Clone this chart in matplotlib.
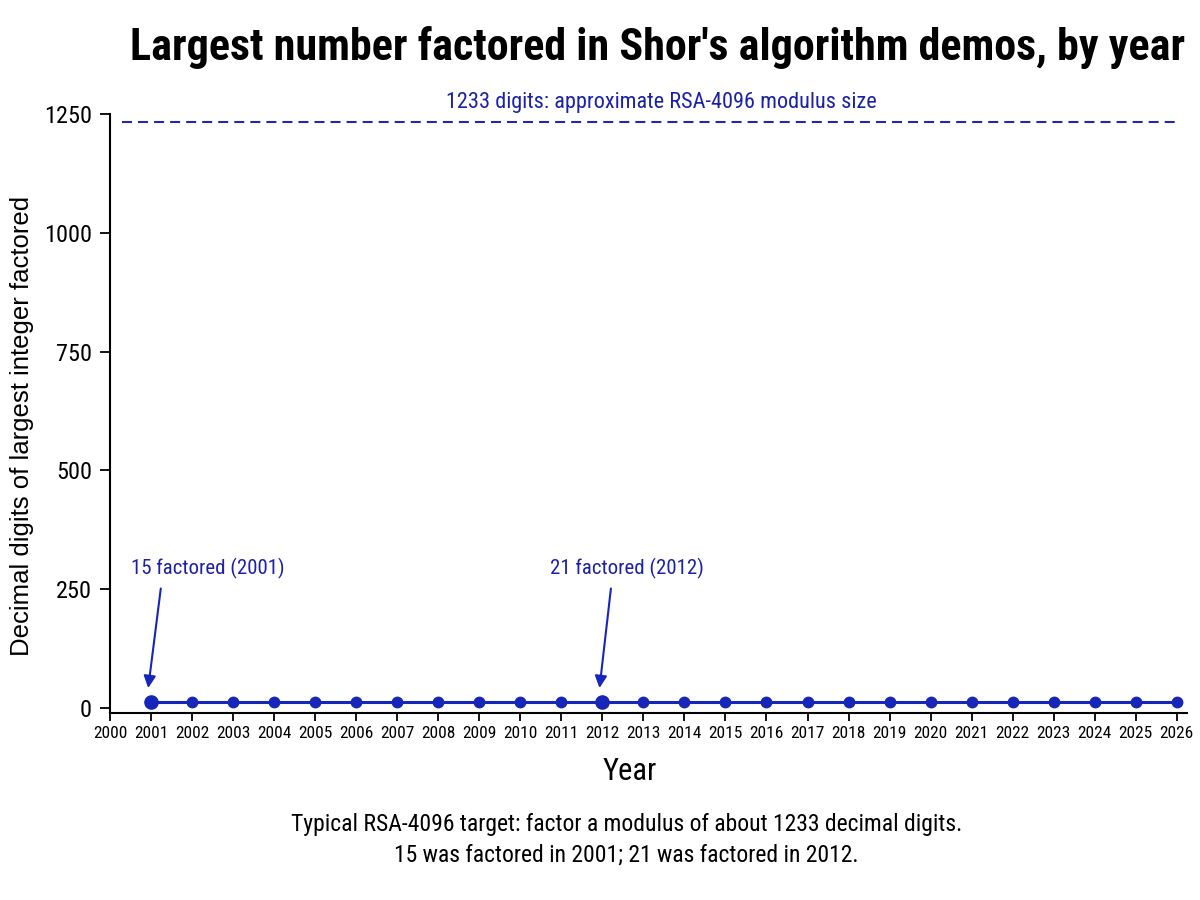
import matplotlib
matplotlib.use("Agg")
import matplotlib.pyplot as plt

# data
years = list(range(2001, 2027))
digits = [12] * len(years)
highlight_years = [2001, 2012]
highlight_labels = ["15 factored (2001)", "21 factored (2012)"]
rsa_digits = 1233
rsa_label = "1233 digits: approximate RSA-4096 modulus size"
yticks = [0, 250, 500, 750, 1000, 1250]
xticks = list(range(2000, 2027))

NARROW = ["Roboto Condensed", "DejaVu Sans"]
BLUE = "#1626b8"
TEXT_BLUE = "#1c22a8"

plt.rcParams["font.family"] = NARROW

fig = plt.figure(figsize=(12, 9), dpi=100)
ax = fig.add_axes([0.0917, 0.2078, 0.8975, 0.6655])

ax.plot(years, digits, color=BLUE, lw=2.2, marker="o", ms=7.5,
        markerfacecolor=BLUE, markeredgecolor=BLUE, zorder=3)
hy = [digits[years.index(y)] for y in highlight_years]
ax.plot(highlight_years, hy, ls="none", marker="o", ms=9.5, color=BLUE, zorder=4)

ax.hlines(rsa_digits, 2000.3, 2026, colors="#2328a8", lw=1.5,
          linestyles=(0, (4.8, 2.9)))
ax.text(2013.43, 1275, rsa_label, ha="center", va="center",
        fontsize=16, color=TEXT_BLUE)

for (yr, lab, tx, rel) in zip(highlight_years, highlight_labels,
                              [2002.39, 2012.61], [0.2, 0.4]):
    ax.annotate(lab, xy=(yr - 0.07, 42), xytext=(tx, 294),
                ha="center", va="center", fontsize=15, color=TEXT_BLUE,
                arrowprops=dict(arrowstyle="-|>", color=BLUE, lw=1.5,
                                mutation_scale=18, shrinkA=5, shrinkB=0,
                                relpos=(rel, 0)))

ax.set_xlim(2000, 2026.25)
ax.set_ylim(-10.5, 1250)
ax.set_xticks(xticks)
ax.set_yticks(yticks)
ax.tick_params(axis="x", labelsize=12.5, length=6, width=1.3)
ax.tick_params(axis="y", labelsize=17.5, length=7, width=1.3, pad=6)
for s in ["top", "right"]:
    ax.spines[s].set_visible(False)
for s in ["left", "bottom"]:
    ax.spines[s].set_linewidth(1.5)

ax.set_xlabel("Year", fontsize=22)
ax.xaxis.set_label_coords(0.483, -0.074)
fig.text(0.018, 0.527, "Decimal digits of largest integer factored",
         rotation=90, ha="center", va="center", fontsize=18.5,
         family=["Liberation Sans", "DejaVu Sans"])

fig.text(0.548, 0.947, "Largest number factored in Shor's algorithm demos, by year",
         ha="center", va="center", fontsize=31.8, fontweight="bold")

fig.text(0.522, 0.0667,
         "Typical RSA-4096 target: factor a modulus of about 1233 decimal digits.\n"
         "15 was factored in 2001; 21 was factored in 2012.",
         ha="center", va="center", ma="center", fontsize=17, linespacing=1.4)

fig.savefig("out.png", dpi=100)
